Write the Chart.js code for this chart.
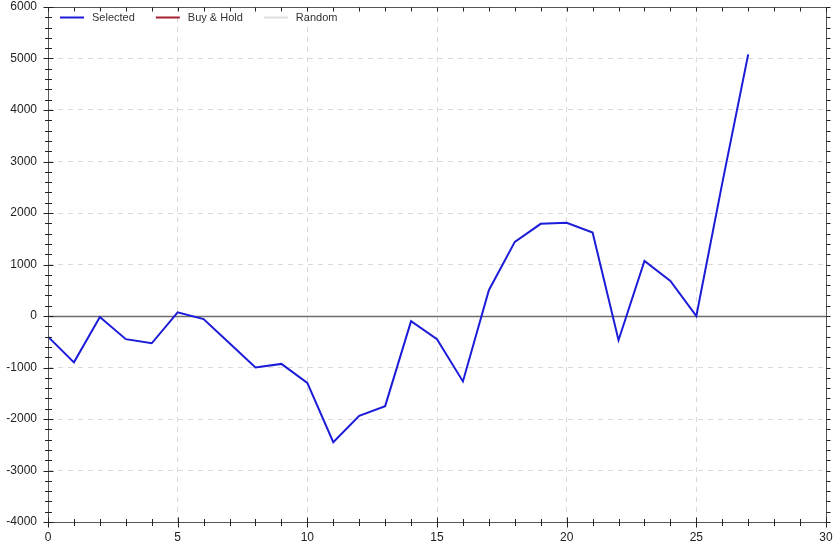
<!DOCTYPE html>
<html><head><meta charset="utf-8">
<script src="https://cdn.jsdelivr.net/npm/chart.js@4/dist/chart.umd.min.js"></script>
<style>html,body{margin:0;padding:0;background:#fff}#wrap{width:839px;height:545px;position:relative}</style>
</head><body><div id="wrap"><canvas id="c"></canvas></div>
<script>
const xValues = [0,1,2,3,4,5,6,7,8,9,10,11,12,13,14,15,16,17,18,19,20,21,22,23,24,25,26,27];
const selected = [-400,-900,-20,-450,-530,70,-60,-530,-1000,-930,-1300,-2450,-1940,-1750,-100,-450,-1270,500,1440,1790,1810,1620,-470,1070,680,0,2580,5080];
const buyHold = [];
const randomSeries = [];
const seriesNames = ['Selected','Buy & Hold','Random'];
const xTicks = [0,5,10,15,20,25,30];
const yTicks = [-4000,-3000,-2000,-1000,0,1000,2000,3000,4000,5000,6000];

const toPts = arr => arr.map((v,i)=>({x:xValues[i], y:v}));
const FONT = "'Liberation Sans', Arial, sans-serif";

const decor = {
  id:'decor',
  beforeDatasetsDraw(chart){
    const {ctx, chartArea:a, scales:{x,y}} = chart;
    const y0 = Math.round(y.getPixelForValue(0))+0.5;
    ctx.save();
    ctx.strokeStyle='#6b6b6b'; ctx.lineWidth=1.5;
    ctx.beginPath(); ctx.moveTo(a.left,y0); ctx.lineTo(a.right,y0); ctx.stroke();
    ctx.restore();
  },
  afterDatasetsDraw(chart){
    const {ctx, chartArea:a, scales:{x,y}} = chart;
    ctx.save();
    ctx.strokeStyle='#555'; ctx.lineWidth=1;
    const L=Math.round(a.left)+0.5, R=Math.round(a.right)+0.5, T=Math.round(a.top)+0.5, B=Math.round(a.bottom)+0.5;
    ctx.strokeRect(L,T,R-L,B-T);
    ctx.strokeStyle='#222';
    ctx.beginPath();
    for(let v=y.min; v<=y.max+1e-6; v+=200){
      const p=Math.round(y.getPixelForValue(v))+0.5;
      const major = Math.abs(v%1000)<1e-6;
      const len = major?5:3.5;
      ctx.moveTo(L-len,p); ctx.lineTo(L+len,p);
      ctx.moveTo(R,p); ctx.lineTo(R+4,p);
    }
    for(let v=x.min; v<=x.max+1e-6; v+=1){
      const p=Math.round(x.getPixelForValue(v))+0.5;
      const major = v%5===0;
      const len = major?5:3.5;
      ctx.moveTo(p,B-len); ctx.lineTo(p,B+len);
      ctx.moveTo(p,T); ctx.lineTo(p,T+4);
    }
    ctx.stroke();
    ctx.font = '11px '+FONT;
    ctx.textBaseline='middle';
    let lx = a.left+12; const ly = a.top+10.5;
    chart.data.datasets.forEach(ds=>{
      ctx.strokeStyle=ds.borderColor; ctx.lineWidth=2;
      ctx.beginPath(); ctx.moveTo(lx,ly); ctx.lineTo(lx+24,ly); ctx.stroke();
      ctx.fillStyle='#333';
      ctx.fillText(ds.label, lx+32, ly);
      lx += 32 + ctx.measureText(ds.label).width + 21;
    });
    ctx.restore();
  }
};

new Chart(document.getElementById('c'), {
  type:'line',
  data:{datasets:[
    {label:seriesNames[0], data:toPts(selected), borderColor:'#1c1cd8', borderWidth:2, pointRadius:0, tension:0, fill:false},
    {label:seriesNames[1], data:toPts(buyHold), borderColor:'#a3202e', borderWidth:2, pointRadius:0, tension:0, fill:false},
    {label:seriesNames[2], data:toPts(randomSeries), borderColor:'#dedede', borderWidth:2, pointRadius:0, tension:0, fill:false}
  ]},
  options:{
    responsive:true, maintainAspectRatio:false, animation:false,
    layout:{padding:{top:7,right:13,left:0,bottom:0}},
    plugins:{legend:{display:false}, tooltip:{enabled:false}},
    scales:{
      x:{type:'linear', min:0, max:30,
        afterBuildTicks: s => { s.ticks = xTicks.map(v=>({value:v})); },
        afterFit: s => { s.height = 23; s.paddingLeft = 0; s.paddingRight = 0; },
        ticks:{font:{family:FONT,size:12}, color:'#222', padding:8, maxRotation:0, callback:v=>String(v)},
        grid:{drawTicks:false, color:'#d9d9d9', lineWidth:1},
        border:{display:false, dash:[5,5]}
      },
      y:{type:'linear', min:-4000, max:6000,
        afterBuildTicks: s => { s.ticks = yTicks.map(v=>({value:v})); },
        afterFit: s => { s.width = 48; s.paddingTop = 0; s.paddingBottom = 0; },
        ticks:{font:{family:FONT,size:12}, color:'#222', padding:11, callback:v=>String(v)},
        grid:{drawTicks:false, color:'#d9d9d9', lineWidth:1},
        border:{display:false, dash:[5,5]}
      }
    }
  },
  plugins:[decor]
});
</script>
</body></html>
